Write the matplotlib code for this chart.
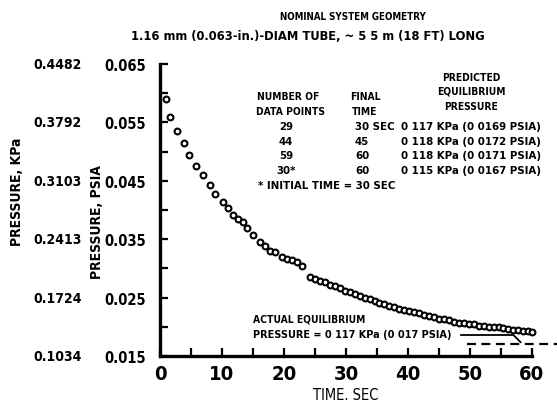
import matplotlib
matplotlib.use("Agg")
import matplotlib.pyplot as plt
import matplotlib.transforms as mtrans

plt.rcParams["font.family"] = ["DejaVu Sans"]
plt.rcParams["font.stretch"] = "condensed"
plt.rcParams["font.weight"] = "bold"

# ---- data ----
time_s = [1.0, 1.6, 2.7, 3.9, 4.7, 5.8, 6.9, 8.1, 8.9, 10.2, 11.0, 11.8, 12.6, 13.4,
          14.0, 15.0, 16.1, 16.9, 17.7, 18.5, 19.7, 20.5, 21.3, 22.1, 22.9, 24.2,
          25.0, 25.8, 26.6, 27.4, 28.2, 29.0, 29.8, 30.6, 31.4, 32.2, 33.0, 33.8,
          34.6, 35.4, 36.2, 37.0, 37.8, 38.6, 39.4, 40.2, 41.0, 41.8, 42.6, 43.4,
          44.2, 45.0, 45.8, 46.6, 47.4, 48.2, 49.0, 49.8, 50.6, 51.4, 52.2, 53.0,
          53.8, 54.6, 55.4, 56.2, 57.0, 57.8, 58.6, 59.4, 60.0]
pressure_psia = [0.0590, 0.0559, 0.0535, 0.0515, 0.0494, 0.0475, 0.0460, 0.0443, 0.0427,
                 0.0414, 0.0403, 0.0391, 0.0385, 0.0379, 0.0369, 0.0357, 0.0345, 0.0338,
                 0.0330, 0.0328, 0.0320, 0.0316, 0.0314, 0.0311, 0.0304, 0.0285, 0.0282,
                 0.0278, 0.0277, 0.0272, 0.0270, 0.0266, 0.0261, 0.0260, 0.0257, 0.0253,
                 0.0250, 0.0247, 0.0244, 0.0241, 0.0239, 0.0236, 0.0234, 0.0231, 0.0229,
                 0.0227, 0.0225, 0.0223, 0.0221, 0.0218, 0.0216, 0.0214, 0.0213, 0.0211,
                 0.0209, 0.0207, 0.0206, 0.0205, 0.0204, 0.0202, 0.0201, 0.0200, 0.0200,
                 0.0199, 0.0198, 0.0197, 0.0195, 0.0194, 0.0193, 0.0192, 0.0191]
psia_ticks = [0.065, 0.055, 0.045, 0.035, 0.025, 0.015]
psia_labels = ["0.065", "0.055", "0.045", "0.035", "0.025", "0.015"]
kpa_labels = ["0.4482", "0.3792", "0.3103", "0.2413", "0.1724", "0.1034"]
x_ticks = [0, 10, 20, 30, 40, 50, 60]
actual_equilibrium_psia = 0.017

table_points = ["29", "44", "59", "30*"]
table_final = ["30 SEC", "45", "60", "60"]
table_pred = ["0 117 KPa (0 0169 PSIA)", "0 118 KPa (0 0172 PSIA)",
              "0 118 KPa (0 0171 PSIA)", "0 115 KPa (0 0167 PSIA)"]

W, H = 557, 410
fig = plt.figure(figsize=(W / 100, H / 100), dpi=100)
ax = fig.add_axes([160 / W, 1 - 357 / H, 372 / W, 292 / H])

ax.plot(time_s, pressure_psia, linestyle="none", marker="o", markersize=4.2,
        markerfacecolor="white", markeredgecolor="black", markeredgewidth=1.5,
        clip_on=False, zorder=3)

ax.set_xlim(0, 60)
ax.set_ylim(0.015, 0.065)
for s in ["top", "right"]:
    ax.spines[s].set_visible(False)
for s in ["left", "bottom"]:
    ax.spines[s].set_linewidth(2.4)

ax.set_xticks(x_ticks)
ax.set_xticks(range(5, 60, 10), minor=True)
ax.set_yticks(psia_ticks)
ax.set_yticklabels(psia_labels)
ax.set_yticks([0.060, 0.050, 0.040, 0.030, 0.020], minor=True)
ax.tick_params(which="both", direction="in", width=1.6, length=6)
ax.tick_params(axis="x", labelsize=14.5, pad=6)
ax.tick_params(axis="y", labelsize=10.5, pad=10)

ax.set_xlabel("TIME. SEC", fontsize=10.5, labelpad=3)

# secondary kPa labels
tr = mtrans.blended_transform_factory(fig.transFigure, ax.transData)
for v, lab in zip(psia_ticks, kpa_labels):
    fig.text(58 / W, v, lab, transform=tr, ha="center", va="center", fontsize=10)

fig.text(17 / W, 1 - 192 / H, "PRESSURE, KPa", rotation=90, ha="center", va="center", fontsize=10)
fig.text(97 / W, 1 - 222 / H, "PRESSURE, PSIA", rotation=90, ha="center", va="center", fontsize=10)

# titles
fig.text(353 / W, 1 - 17 / H, "NOMINAL SYSTEM GEOMETRY", ha="center", va="center", fontsize=7)
fig.text(308 / W, 1 - 37 / H, "1.16 mm (0.063-in.)-DIAM TUBE, ~ 5 5 m (18 FT) LONG",
         ha="center", va="center", fontsize=9.3)

# table
FS = 8.2
HS = 7.4
def ft(x, y, s, fs=FS, **kw):
    fig.text(x / W, 1 - y / H, s, ha="center", va="center", fontsize=fs, **kw)

ft(288, 97, "NUMBER OF", HS)
ft(290, 112, "DATA POINTS", HS)
ft(365, 97, "FINAL", HS)
ft(365, 112, "TIME", HS)
ft(471, 78, "PREDICTED", HS)
ft(471, 92, "EQUILIBRIUM", HS)
ft(471, 107, "PRESSURE", HS)
for i, (a, b, c) in enumerate(zip(table_points, table_final, table_pred)):
    y = 127 + i * 14.7
    ft(286, y, a)
    fig.text(355 / W, 1 - y / H, b, ha="left", va="center", fontsize=FS)
    ft(471, y, c)
fig.text(258 / W, 1 - 186 / H, "* INITIAL TIME = 30 SEC", ha="left", va="center", fontsize=FS)

# actual equilibrium annotation
ax.plot([49.5, 64], [actual_equilibrium_psia] * 2, color="black", linestyle=(0, (4, 2.5)),
        linewidth=1.6, clip_on=False)
fig.text(253 / W, 1 - 320 / H, "ACTUAL EQUILIBRIUM", ha="left", va="center", fontsize=7.4)
fig.text(253 / W, 1 - 335 / H, "PRESSURE = 0 117 KPa (0 017 PSIA)", ha="left", va="center", fontsize=7.8)
ax.annotate("", xy=(58.5, actual_equilibrium_psia), xycoords="data",
            xytext=(458 / W, 1 - 336 / H), textcoords="figure fraction",
            arrowprops=dict(arrowstyle="-", color="black", lw=1.3,
                            connectionstyle="angle,angleA=0,angleB=-45,rad=0"))

fig.savefig("out.png", dpi=100)
